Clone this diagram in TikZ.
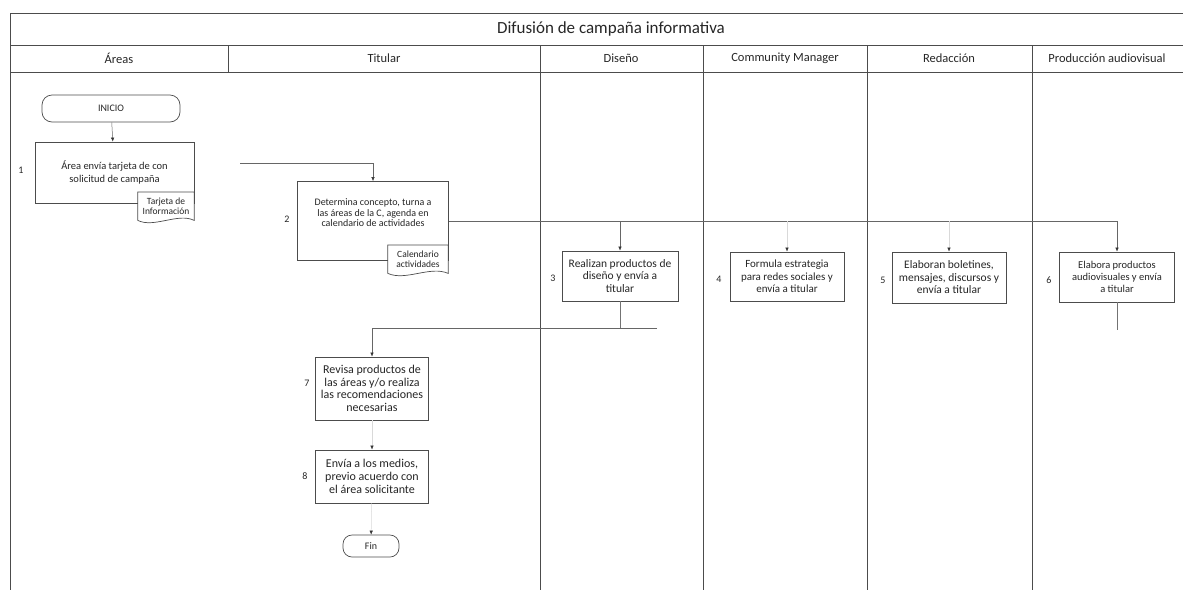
\documentclass[tikz,border=0pt]{standalone}
\usepackage{fontspec}
\setmainfont{Carlito}
\usetikzlibrary{arrows.meta,positioning}

\tikzset{
  marco/.style={draw=black!70, line width=1pt},
  paso/.style={draw=black!70, line width=0.8pt, fill=white, align=center, inner sep=1pt,
    text=black!85, font=\fontsize{11}{12.5}\selectfont},
  limite/.style={draw=black!70, line width=0.7pt, rounded corners=10pt, align=center,
    text=black!85, font=\fontsize{10}{11}\selectfont},
  docu/.style={fill=white, align=center, inner sep=1pt, text=black!85,
    font=\fontsize{9.5}{9.5}\selectfont, minimum height=28pt},
  num/.style={text=black!85, font=\fontsize{10}{11}\selectfont},
  flecha/.style={draw=black!60, line width=0.5pt, -{Latex[length=4pt,width=3.5pt,color=black!80]}},
  tenue/.style={flecha, draw=black!15},
  linea/.style={draw=black!55, line width=0.5pt}
}

\begin{document}
\begin{tikzpicture}[x=1pt,y=-1pt]
\useasboundingbox (0,0) rectangle (1183,590);
\draw[marco] (1183,13) -- (10,13) -- (10,590);
\draw[marco] (10,45) -- (1183,45);
\draw[marco] (10,72) -- (1183,72);
\foreach \x in {228,540,703,867,1032}
  \draw[marco] (\x,45) -- (\x,72);
\foreach \x in {540,703,867,1032}
  \draw[marco] (\x,72) -- (\x,590);
\node[text=black!85, font=\fontsize{17}{18}\selectfont] (titulo) at (611,28.5) {Difusión de campaña informativa};
\foreach \x/\t [count=\i] in {119/Áreas,384/Titular,621/Diseño,785/Community Manager,949/Redacción,1107/Producción audiovisual}
  \node[text=black!85, font=\fontsize{12.5}{14}\selectfont] (col\i) at (\x,58.5) {\t};

\node[limite, minimum width=138pt, minimum height=27pt] (inicio) at (111,108.5) {INICIO};
\node[paso, minimum width=159pt, minimum height=61pt, font=\fontsize{10.5}{13}\selectfont] (p1) at (114.5,172.5) {Área envía tarjeta de con\\solicitud de campaña};
\node[num] (n1) at (21,170) {1};
\node[docu, minimum width=56pt, anchor=north] (tarjeta) at (166,192) {Tarjeta de\\Información};
\draw[black!70, line width=0.7pt] (tarjeta.south west) -- (tarjeta.north west) -- (tarjeta.north east) -- (tarjeta.south east)
  .. controls +(-16,-8) and +(16,8) .. (tarjeta.south west);
\draw[flecha] (inicio) -- (p1);

\node[paso, minimum width=151pt, minimum height=79pt, font=\fontsize{10}{10.5}\selectfont] (p2) at (373,221) {Determina concepto, turna a\\las áreas de la C, agenda en\\calendario de actividades\\[6pt]};
\node[num] (n2) at (287,219) {2};
\node[docu, minimum width=60pt, anchor=north] (calendario) at (418,245) {Calendario\\actividades};
\draw[black!70, line width=0.7pt] (calendario.south west) -- (calendario.north west) -- (calendario.north east) -- (calendario.south east)
  .. controls +(-18,-8) and +(18,8) .. (calendario.south west);
\coordinate (entrada) at (240,163);
\draw[flecha] (entrada) -| (p2.north);

\node[paso, minimum width=116pt, minimum height=50pt, font=\fontsize{11.5}{12.5}\selectfont] (p3) at (620,276) {Realizan productos de\\diseño y envía a\\titular};
\node[num] (n3) at (553,278) {3};
\node[paso, minimum width=114pt, minimum height=49pt] (p4) at (787,276.5) {Formula estrategia\\para redes sociales y\\envía a titular};
\node[num] (n4) at (719,279) {4};
\node[paso, minimum width=114pt, minimum height=51pt, font=\fontsize{11.5}{12.5}\selectfont] (p5) at (949,277.5) {Elaboran boletines,\\mensajes, discursos y\\envía a titular};
\node[num] (n5) at (883,280) {5};
\node[paso, minimum width=115pt, minimum height=50pt, font=\fontsize{10.5}{12}\selectfont] (p6) at (1117,277) {Elabora productos\\audiovisuales y envía\\a titular};
\node[num] (n6) at (1049,280) {6};

\draw[flecha] (p2.east) -| (p6.north);
\draw[flecha] (p3.north |- p2.east) -- (p3.north);
\draw[tenue] (p4.north |- p2.east) -- (p4.north);
\draw[tenue] (p5.north |- p2.east) -- (p5.north);
\coordinate (salida6) at (1117,330);
\draw[linea] (p6.south) -- (salida6);

\node[paso, minimum width=113pt, minimum height=63pt, font=\fontsize{12}{12.5}\selectfont] (p7) at (372,388.5) {Revisa productos de\\las áreas y/o realiza\\las recomendaciones\\necesarias};
\node[num] (n7) at (307,383) {7};
\node[paso, minimum width=113pt, minimum height=53pt, font=\fontsize{12}{13}\selectfont] (p8) at (372,476.5) {Envía a los medios,\\previo acuerdo con\\el área solicitante};
\node[num] (n8) at (305,476) {8};
\node[limite, minimum width=56pt, minimum height=22pt, rounded corners=9pt] (fin) at (371,546) {Fin};

\coordinate (retorno) at (657,328);
\draw[linea] (p3.south) |- (retorno);
\draw[flecha] (retorno) -| (p7.north);
\draw[tenue] (p7) -- (p8);
\draw[tenue] (p8) -- (fin);
\end{tikzpicture}
\end{document}
